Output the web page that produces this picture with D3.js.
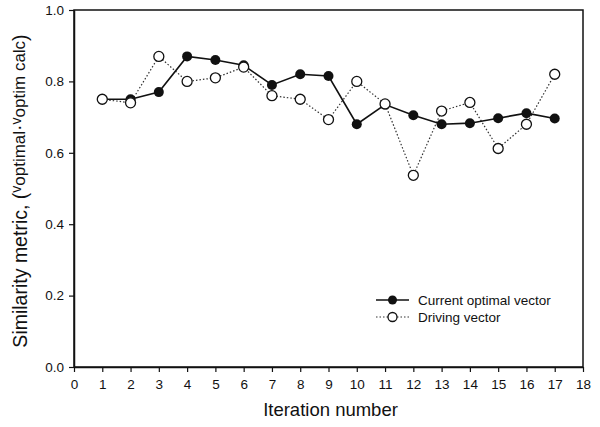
<!DOCTYPE html>
<html>
<head>
<meta charset="utf-8">
<script src="https://cdn.jsdelivr.net/npm/d3@7"></script>
<style>
  body { margin: 0; background: #fff; }
  text { font-family: "Liberation Sans", Arial, sans-serif; fill: #111; }
</style>
</head>
<body>
<script>
// Width and Height
const w = 600;
const h = 427;

// data
const iterations = [1, 2, 3, 4, 5, 6, 7, 8, 9, 10, 11, 12, 13, 14, 15, 16, 17];
const currentOptimal = [0.75, 0.75, 0.77, 0.87, 0.86, 0.845, 0.79, 0.82, 0.815, 0.68, 0.735, 0.705, 0.68, 0.683, 0.697, 0.711, 0.696];
const drivingVector = [0.75, 0.74, 0.87, 0.80, 0.81, 0.84, 0.76, 0.75, 0.693, 0.80, 0.737, 0.537, 0.717, 0.741, 0.612, 0.68, 0.82];
const xTicks = d3.range(0, 19);
const yTicks = [0.0, 0.2, 0.4, 0.6, 0.8, 1.0];

// plot box
const pLeft = 74, pRight = 583, pTop = 10, pBottom = 367;

const x = d3.scaleLinear().domain([0, 18]).range([pLeft, pRight]);
const y = d3.scaleLinear().domain([0, 1]).range([pBottom, pTop]);

// Create SVG
const svg = d3.select("body")
    .append("svg")
    .attr("width", w)
    .attr("height", h);

// frame
svg.append("rect")
    .attr("x", pLeft).attr("y", pTop)
    .attr("width", pRight - pLeft).attr("height", pBottom - pTop)
    .attr("fill", "none").attr("stroke", "#111").attr("stroke-width", 1.5);

// axes
const xAxis = svg.append("g")
    .attr("transform", "translate(0," + pBottom + ")")
    .call(d3.axisBottom(x).tickValues(xTicks).tickFormat(d3.format("d")).tickSize(5).tickSizeOuter(0));

const yAxis = svg.append("g")
    .attr("transform", "translate(" + pLeft + ",0)")
    .call(d3.axisLeft(y).tickValues(yTicks).tickFormat(d3.format(".1f")).tickSize(5).tickSizeOuter(0));

[xAxis, yAxis].forEach(function(g) {
    g.select(".domain").attr("stroke", "#111").attr("stroke-width", 1.5);
    g.selectAll(".tick line").attr("stroke", "#111").attr("stroke-width", 1.2);
    g.selectAll(".tick text").style("font-size", "13.5px").attr("fill", "#111");
});
xAxis.selectAll(".tick text").attr("dy", "1.0em");
yAxis.selectAll(".tick text").attr("dx", "-0.15em");

// axis titles
svg.append("text")
    .attr("x", (pLeft + pRight) / 2 + 2)
    .attr("y", 416)
    .attr("text-anchor", "middle")
    .style("font-size", "18.5px")
    .text("Iteration number");

const yl = svg.append("text")
    .attr("transform", "translate(27,191) rotate(-90)")
    .attr("text-anchor", "middle")
    .style("font-size", "19.5px");
yl.append("tspan").text("Similarity metric, (");
yl.append("tspan").attr("dy", -6).style("font-size", "14px").text("v");
yl.append("tspan").attr("dy", 4).style("font-size", "17px").text("optimal");
yl.append("tspan").text("\u00b7");
yl.append("tspan").attr("dy", -4).style("font-size", "14px").text("v");
yl.append("tspan").attr("dy", 4).style("font-size", "17px").text("optim calc");
yl.append("tspan").attr("dy", 2).text(")");

// lines
const line = d3.line()
    .x(function(d) { return x(d[0]); })
    .y(function(d) { return y(d[1]); });

const cur = iterations.map(function(it, i) { return [it, currentOptimal[i]]; });
const drv = iterations.map(function(it, i) { return [it, drivingVector[i]]; });

svg.append("path")
    .attr("d", line(drv))
    .attr("fill", "none")
    .attr("stroke", "#333")
    .attr("stroke-width", 1.2)
    .attr("stroke-dasharray", "1.5,2");

svg.append("path")
    .attr("d", line(cur))
    .attr("fill", "none")
    .attr("stroke", "#111")
    .attr("stroke-width", 1.6);

svg.selectAll(".cur")
    .data(cur)
    .enter()
    .append("circle")
    .attr("cx", function(d) { return x(d[0]); })
    .attr("cy", function(d) { return y(d[1]); })
    .attr("r", 5)
    .attr("fill", "#111");

svg.selectAll(".drv")
    .data(drv)
    .enter()
    .append("circle")
    .attr("cx", function(d) { return x(d[0]); })
    .attr("cy", function(d) { return y(d[1]); })
    .attr("r", 5)
    .attr("fill", "#fff")
    .attr("stroke", "#111")
    .attr("stroke-width", 1.3);

// legend
const legend = svg.append("g").attr("transform", "translate(376,300)");

legend.append("line")
    .attr("x1", 0).attr("x2", 33).attr("y1", 0).attr("y2", 0)
    .attr("stroke", "#111").attr("stroke-width", 1.6);
legend.append("circle").attr("cx", 16.5).attr("cy", 0).attr("r", 4.5).attr("fill", "#111");
legend.append("text").attr("x", 42).attr("y", 5).style("font-size", "13.5px").text("Current optimal vector");

legend.append("line")
    .attr("x1", 0).attr("x2", 33).attr("y1", 17).attr("y2", 17)
    .attr("stroke", "#333").attr("stroke-width", 1.2).attr("stroke-dasharray", "1.5,2");
legend.append("circle").attr("cx", 16.5).attr("cy", 17).attr("r", 4.5)
    .attr("fill", "#fff").attr("stroke", "#111").attr("stroke-width", 1.3);
legend.append("text").attr("x", 42).attr("y", 22).style("font-size", "13.5px").text("Driving vector");
</script>
</body>
</html>
